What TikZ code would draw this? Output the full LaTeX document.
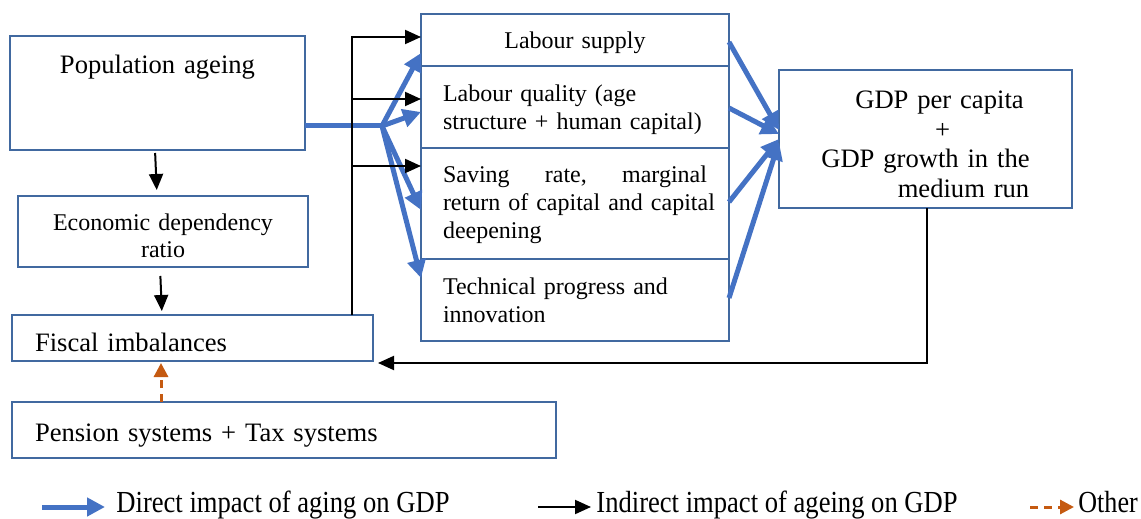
\documentclass[tikz,border=0pt]{standalone}
\usepackage{fontspec}
\setmainfont{Liberation Serif}
\usetikzlibrary{positioning}
\usetikzlibrary{arrows.meta}

\definecolor{boxblue}{RGB}{65,105,160}
\definecolor{arrowblue}{RGB}{68,114,196}
\definecolor{otherorange}{RGB}{197,90,17}

\tikzset{
  box/.style={draw=boxblue, line width=1pt, inner sep=0pt, outer sep=0pt, fill=white},
  small/.style={font=\fontsize{12}{14}\selectfont},
  large/.style={font=\fontsize{13.3}{14.7}\selectfont},
  keytext/.style={large, anchor=base west, inner xsep=0pt},
  direct/.style={draw=arrowblue, line width=2.5pt, -{Triangle[length=9pt,width=9pt]}},
  indirect/.style={draw=black, line width=1pt, -{Triangle[length=8pt,width=7pt]}},
  other/.style={draw=otherorange, line width=1.5pt, dash pattern=on 4pt off 3pt, -{Triangle[length=7pt,width=7pt]}},
}

\begin{document}
\begin{tikzpicture}[x=0.5pt,y=-0.5pt]
  \useasboundingbox (0,0) rectangle (1141,519);

  % left column
  \node[box, large, anchor=north west, text width=147.5pt, align=center,
        text height=19pt, text depth=38pt] (pop) at (10,36) {Population ageing};
  \node[box, font=\fontsize{12}{13.5}\selectfont, anchor=north west, text width=145pt, align=center,
        text height=17pt, text depth=18.5pt] (econ) at (18,196) {Economic dependency\\ ratio};
  \node[box, large, anchor=north west, inner xsep=11.5pt, text width=157.5pt, align=left,
        text height=18pt, text depth=5pt] (fis) at (12,315) {Fiscal imbalances};
  \node[box, large, anchor=north west, inner xsep=11.5pt, text width=249pt, align=left,
        text height=19.5pt, text depth=8.5pt] (pen) at (12,402) {Pension systems + Tax systems};

  % channels
  \node[box, small, anchor=north west, text width=154pt, align=center,
        text height=17.5pt, text depth=8.5pt] (ls) at (421,14) {Labour supply};
  \node[box, small, below=0pt of ls, inner xsep=11pt, text width=132pt, align=left,
        text height=18pt, text depth=23pt] (lq) {Labour quality (age\\ structure + human capital)};
  \node[box, small, below=0pt of lq, inner xsep=11pt, text width=132pt, align=left,
        text height=17.5pt, text depth=38pt] (sr)
        {Saving\hfill rate,\hfill marginal\\ \mbox{return of capital and capital}\\ deepening};
  \node[box, small, below=0pt of sr, inner xsep=11pt, text width=132pt, align=left,
        text height=17.5pt, text depth=23.5pt] (tp) {Technical progress and\\ innovation};

  % outcome
  \node[box, large, anchor=north west, text width=146.5pt, align=center,
        text height=19.5pt, text depth=49.5pt] (gdp) at (779,70)
        {\hspace*{14pt}GDP per capita\\ \hspace*{17pt}+\\ GDP growth in the\\ \hspace*{38pt}medium run};

  % direct impact
  \coordinate (hub) at (382,126);
  \draw[arrowblue, line width=2.5pt] (pop.east |- hub) -- (hub);
  \draw[direct] (hub) -- (ls.west |- 0,53);
  \draw[direct] (hub) -- (lq.west |- 0,112);
  \draw[direct] (hub) -- (sr.west |- 0,210);
  \draw[direct] (hub) -- (tp.west |- 0,278);
  \draw[direct] (ls.east |- 0,42) -- (gdp.west |- 0,130);
  \draw[direct] (lq.east |- 0,108) -- (gdp.west |- 0,134);
  \draw[direct] (sr.east |- 0,202) -- (gdp.west |- 0,139);
  \draw[direct] (tp.east |- 0,298) -- (gdp.west |- 0,142);

  % indirect impact
  \coordinate (trunk) at (352,37);
  \draw[indirect] (fis.north -| trunk) |- (ls.west |- trunk);
  \draw[indirect] (trunk |- 0,99) -- (lq.west |- 0,99);
  \draw[indirect] (trunk |- 0,166) -- (sr.west |- 0,166);
  \draw[indirect, shorten <=1.5pt, shorten >=3pt] ([xshift=-1.25pt]pop.south) -- ([xshift=-3pt]econ.north);
  \draw[indirect, shorten <=4.5pt, shorten >=2pt] (econ.south -| 160,0) -- (fis.north -| 162,0);
  \draw[indirect, shorten >=2.5pt] (gdp.south -| 927,0) |- (fis.east |- 0,363);
  \draw[other, shorten >=1pt] (pen.north -| 161,0) -- (fis.south -| 161,0);

  % key
  \coordinate (k1a) at (42,507);
  \coordinate (k1b) at (105,507);
  \coordinate (k2a) at (538,507);
  \coordinate (k2b) at (591,507);
  \coordinate (k3a) at (1030,507);
  \coordinate (k3b) at (1074,507);
  \draw[direct] (k1a) -- (k1b);
  \draw[indirect] (k2a) -- (k2b);
  \draw[other] (k3a) -- (k3b);
  \node[keytext] (k1) at (116,512) {\scalebox{1}[1.15]{Direct impact of aging on GDP}};
  \node[keytext] (k2) at (596,512) {\scalebox{1}[1.15]{Indirect impact of ageing on GDP}};
  \node[keytext] (k3) at (1078,512) {\scalebox{0.98}[1.15]{Other}};
\end{tikzpicture}
\end{document}
